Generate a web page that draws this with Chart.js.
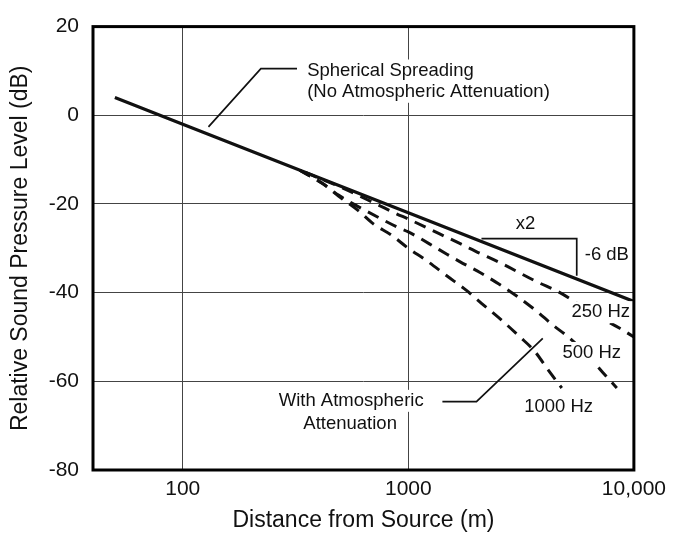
<!DOCTYPE html>
<html>
<head>
<meta charset="utf-8">
<title>Relative sound pressure level vs distance</title>
<script src="https://cdn.jsdelivr.net/npm/chart.js@4"></script>
<style>
  html, body { margin: 0; padding: 0; background: #fff; }
  #wrap { width: 673px; height: 534px; }
</style>
</head>
<body>
<div id="wrap"><canvas id="myChart" width="673" height="534"></canvas></div>
<script>
'use strict';

// values (distance in m, level in dB)
let sphericalDist = [50, 100, 1000, 10000];
let sphericalLevel = [4, -2, -22, -42];

let dist250 = [350, 500, 720, 885, 1000, 1370, 1690, 2070, 2560, 3700, 4700, 6500, 8700, 10000];
let level250 = [-12.9, -16.2, -20, -22.2, -23.4, -26.7, -28.9, -31.1, -33.3, -37.5, -40, -44.5, -48.1, -50];

let dist500 = [330, 420, 490, 605, 740, 900, 1000, 1370, 1690, 2070, 2510, 3050, 3710, 4370, 5090, 6200, 7280, 8400];
let level500 = [-12.4, -15.5, -18, -20.7, -23.1, -25.3, -26.3, -30.3, -33, -35.4, -38, -40.9, -44.2, -47.3, -49.9, -54, -58, -61.5];

let dist1000 = [330, 420, 490, 600, 700, 840, 1000, 1200, 1480, 1810, 2110, 2590, 3110, 3630, 4190, 4790];
let level1000 = [-12.4, -15.5, -18.2, -21.5, -24.5, -27, -30, -32.7, -36.2, -39.5, -42.4, -46.2, -49.9, -53.2, -57.6, -61.5];

let xTicks = [100, 1000, 10000];
let xTickLabels = ['100', '1000', '10,000'];
let yTicks = [20, 0, -20, -40, -60, -80];

// notes on the plot, anchored in data units
let noteTexts = ['Spherical Spreading', '(No Atmospheric Attenuation)', 'x2', '-6 dB',
  '250 Hz', '500 Hz', '1000 Hz', 'With Atmospheric', 'Attenuation'];
let noteDist = [356, 356, 3311, 6055, 7130, 6500, 4640, 558, 552];
let noteLevel = [10.1, 5.3, -24.6, -31.4, -44.4, -53.6, -65.7, -64.4, -69.5];
let noteAlign = ['left', 'left', 'center', 'left', 'center', 'center', 'center', 'center', 'center'];

// leader lines and the x2 / -6 dB bracket
let leaderDist = [
  [130, 222, 321],
  [2110, 5580, 5580],
  [1416, 2005, 3945]
];
let leaderLevel = [
  [-2.6, 10.5, 10.5],
  [-27.8, -27.8, -36.2],
  [-64.6, -64.6, -50.3]
];

function toPoints(xs, ys) {
  let pts = [];
  for (let i = 0; i < xs.length; i++) {
    pts.push({x: xs[i], y: ys[i]});
  }
  return pts;
}

let fontFamily = '"Liberation Sans", Arial, Helvetica, sans-serif';

let notesPlugin = {
  id: 'notes',
  afterDatasetsDraw(chart) {
    let ctx = chart.ctx;
    let xs = chart.scales.x;
    let ys = chart.scales.y;
    ctx.save();

    ctx.strokeStyle = '#111';
    ctx.lineWidth = 1.7;
    for (let i = 0; i < leaderDist.length; i++) {
      ctx.beginPath();
      for (let j = 0; j < leaderDist[i].length; j++) {
        let px = xs.getPixelForValue(leaderDist[i][j]);
        let py = ys.getPixelForValue(leaderLevel[i][j]);
        if (j === 0) ctx.moveTo(px, py); else ctx.lineTo(px, py);
      }
      ctx.stroke();
    }

    ctx.font = '18.5px ' + fontFamily;
    ctx.textBaseline = 'middle';
    for (let i = 0; i < noteTexts.length; i++) {
      let px = xs.getPixelForValue(noteDist[i]);
      let py = ys.getPixelForValue(noteLevel[i]);
      let w = ctx.measureText(noteTexts[i]).width;
      let left = noteAlign[i] === 'left' ? px : px - w / 2;
      ctx.fillStyle = '#fff';
      ctx.fillRect(left - 3, py - 11, w + 6, 22);
      ctx.fillStyle = '#111';
      ctx.textAlign = noteAlign[i];
      ctx.fillText(noteTexts[i], px, py);
    }

    // heavy frame round the plot
    let a = chart.chartArea;
    ctx.strokeStyle = '#000';
    ctx.lineWidth = 3;
    ctx.strokeRect(a.left, a.top, a.right - a.left, a.bottom - a.top);
    ctx.restore();
  }
};

let dashed = {
  borderColor: '#111',
  borderWidth: 3,
  borderDash: [12, 8],
  pointRadius: 0,
  fill: false,
  cubicInterpolationMode: 'monotone'
};

let ctx = document.getElementById('myChart').getContext('2d');
let myChart = new Chart(ctx, {
  type: 'line',
  data: {
    datasets: [
      {
        label: 'Spherical Spreading',
        data: toPoints(sphericalDist, sphericalLevel),
        borderColor: '#111',
        borderWidth: 3.2,
        pointRadius: 0,
        fill: false
      },
      Object.assign({label: '250 Hz', data: toPoints(dist250, level250)}, dashed),
      Object.assign({label: '500 Hz', data: toPoints(dist500, level500)}, dashed),
      Object.assign({label: '1000 Hz', data: toPoints(dist1000, level1000)}, dashed)
    ]
  },
  options: {
    responsive: false,
    animation: false,
    layout: { padding: { top: 15, right: 36, left: 0, bottom: 0 } },
    plugins: {
      legend: { display: false },
      tooltip: { enabled: false }
    },
    scales: {
      x: {
        type: 'logarithmic',
        min: 40,
        max: 10000,
        afterBuildTicks: function (scale) {
          scale.ticks = xTicks.map(function (v) { return {value: v}; });
        },
        afterFit: function (scale) { scale.height = 64; },
        ticks: {
          autoSkip: false,
          maxRotation: 0,
          padding: 7,
          color: '#111',
          font: { family: fontFamily, size: 21 },
          callback: function (value, index) { return xTickLabels[index]; }
        },
        grid: { color: '#444', lineWidth: 1, drawTicks: false },
        border: { display: false },
        title: {
          display: true,
          text: 'Distance from Source (m)',
          color: '#111',
          font: { family: fontFamily, size: 23 },
          padding: { top: 0, bottom: 0 }
        }
      },
      y: {
        min: -80,
        max: 20,
        afterBuildTicks: function (scale) {
          scale.ticks = yTicks.map(function (v) { return {value: v}; });
        },
        afterFit: function (scale) { scale.width = 93; },
        ticks: {
          padding: 14,
          color: '#111',
          font: { family: fontFamily, size: 21 }
        },
        grid: { color: '#444', lineWidth: 1, drawTicks: false },
        border: { display: false },
        title: {
          display: true,
          text: 'Relative Sound Pressure Level (dB)',
          color: '#111',
          font: { family: fontFamily, size: 23 },
          padding: { top: 7, bottom: 0 }
        }
      }
    }
  },
  plugins: [notesPlugin]
});
</script>
</body>
</html>
